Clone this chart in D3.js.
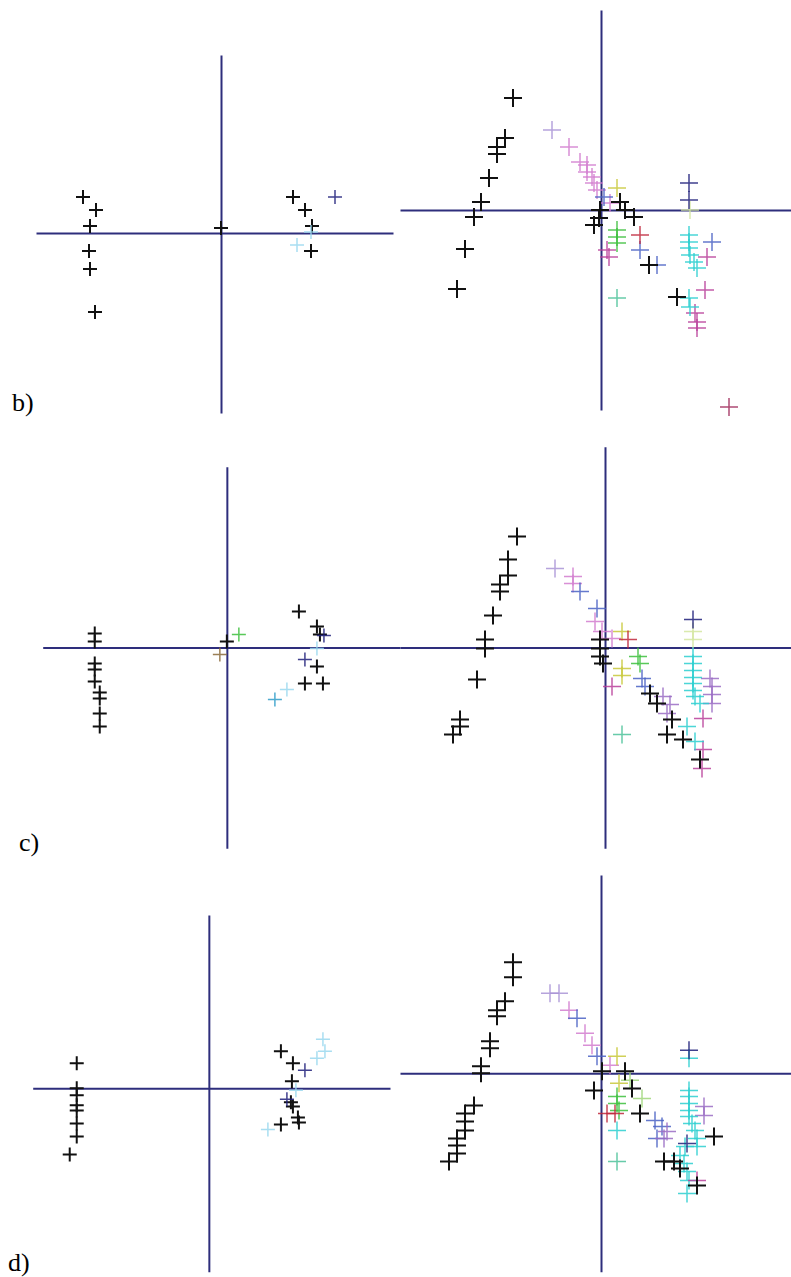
<!DOCTYPE html>
<html>
<head>
<meta charset="utf-8">
<script src="https://cdn.jsdelivr.net/npm/d3@7"></script>
<style>
  html, body { margin: 0; padding: 0; background: #fff; }
  svg { display: block; }
</style>
</head>
<body>
<script>
// ---------------- DATA (values in plot units, origin = axis crossing) ----------------
const colors = {
  black: "#111111", navy: "#1f1f7a", lightCyan: "#9ad8ee", cyanBlue: "#2f9cc8",
  cyan: "#2ccfd0", teal: "#4cc29a", green: "#3cbf3c", lightGreen: "#9fd67a",
  yellow: "#c8c83a", red: "#c0283c", magenta: "#b8409a", pink: "#d27ccf",
  lavender: "#a994d6", purple: "#9a6cc4", blue: "#4a62c4", brown: "#8a6a3a",
  lime: "#d4e6a0", maroon: "#a02c5a"
};

// panel b, left
const bL_black = [[-13.8,3.6],[-12.5,2.3],[-13.1,0.7],[-13.2,-1.8],[-13.1,-3.6],[-12.6,-7.9],[0,0.5],[7.2,3.6],[8.4,2.3],[9.1,0.7],[9.0,-1.8]];
const bL_navy = [[11.4,3.6]];
const bL_lightCyan = [[9.0,0.1],[7.6,-1.2]];

// panel b, right
const bR_black = [[-8.8,11.2],[-9.6,7.2],[-10.4,6.3],[-10.4,5.6],[-11.2,3.2],[-12.0,0.8],[-12.7,-0.7],[-13.6,-3.9],[-14.4,-7.9],[-0.1,0],[-0.2,-0.8],[-0.7,-1.5],[1.9,0.8],[2.4,0],[3.3,-0.7],[4.8,-5.5],[7.6,-8.7]];
const bR_lavender = [[-4.9,8.0]];
const bR_pink = [[-3.2,6.3],[-2.1,4.8],[-1.4,4.5],[-1.4,3.8],[-0.9,3.3],[-0.7,2.7],[-0.4,2.0],[0.9,0.7]];
const bR_magenta = [[0.6,-4.0],[0.8,-4.7],[10.6,-4.7],[10.4,-8.0],[9.4,-10.3],[9.6,-11.2],[9.6,-11.8]];
const bR_blue = [[0.3,1.3],[3.9,-4.0],[5.6,-5.5],[11.1,-3.2]];
const bR_yellow = [[1.6,2.2]];
const bR_green = [[1.6,-2.0],[1.6,-2.7],[1.6,-3.3]];
const bR_red = [[3.9,-2.5]];
const bR_teal = [[1.6,-8.8]];
const bR_navy = [[8.8,2.7],[8.8,1.0]];
const bR_cyan = [[8.8,-2.5],[8.8,-3.2],[8.8,-3.8],[8.9,-4.5],[9.3,-5.2],[9.6,-5.8],[8.8,-8.8],[8.9,-9.7]];
const bR_lime = [[8.9,0]];
const bR_maroon = [[12.8,-19.7]];

// panel c, left
const cL_black = [[-13.2,1.4],[-13.2,0.6],[-13.2,-1.6],[-13.2,-2.2],[-13.2,-3.4],[-12.7,-4.5],[-12.7,-5.1],[-12.7,-6.6],[-12.7,-7.9],[0,0.6],[7.2,3.6],[9.0,2.1],[9.3,1.3],[9.0,-1.9],[7.8,-3.6],[9.6,-3.6]];
const cL_brown = [[-0.7,-0.7]];
const cL_green = [[1.2,1.3]];
const cL_navy = [[9.7,1.2],[7.8,-1.2]];
const cL_lightCyan = [[9.0,-0.1],[6.0,-4.2]];
const cL_cyanBlue = [[4.8,-5.2]];

// panel c, right
const cR_black = [[-8.8,11.1],[-9.7,8.8],[-9.7,7.2],[-10.5,6.3],[-10.5,5.6],[-11.2,3.2],[-12.0,0.8],[-12.0,-0.1],[-12.8,-3.2],[-14.5,-7.2],[-14.5,-7.9],[-15.2,-8.7],[-0.5,0.8],[-0.5,-0.1],[-0.5,-0.9],[-0.2,-1.6],[4.5,-4.6],[5.2,-5.6],[6.7,-7.2],[6.2,-8.7],[7.8,-9.2],[9.5,-11.2]];
const cR_lavender = [[-5.0,7.9]];
const cR_pink = [[-3.2,7.1],[-3.2,6.4],[-1.0,2.6],[-0.3,1.6],[0.7,0.9]];
const cR_blue = [[-2.5,5.6],[-0.8,3.9],[3.7,-3.1],[4.0,-3.9]];
const cR_yellow = [[1.7,1.6],[1.7,-2.1],[1.7,-2.8]];
const cR_red = [[2.3,0.8]];
const cR_green = [[3.3,-0.9],[3.5,-1.6]];
const cR_magenta = [[0.7,-3.9],[9.8,-7.1],[9.8,-10.2],[9.7,-12.1]];
const cR_purple = [[5.8,-4.9],[6.5,-5.7],[6.2,-6.6],[10.5,-3.1],[10.7,-3.9],[10.7,-4.7],[10.7,-5.6]];
const cR_cyan = [[8.8,-0.9],[8.8,-1.6],[8.8,-2.3],[8.8,-3.0],[8.8,-3.6],[8.8,-4.3],[9.0,-4.9],[9.5,-5.6],[8.2,-7.9],[9.0,-9.4]];
const cR_navy = [[8.8,2.8]];
const cR_lime = [[8.8,1.6],[8.8,0.8]];
const cR_teal = [[1.7,-8.7]];

// panel d, left
const dL_black = [[-13.2,2.5],[-13.2,0],[-13.2,-0.7],[-13.2,-1.7],[-13.2,-2.2],[-13.2,-3.5],[-13.2,-4.8],[-13.9,-6.6],[7.2,3.7],[8.4,2.5],[8.3,0.7],[8.2,-1.4],[8.4,-1.8],[8.9,-2.9],[9.0,-3.4],[7.2,-3.6]];
const dL_navy = [[9.6,1.8],[7.8,-1.1]];
const dL_lightCyan = [[8.7,-0.2],[5.9,-4.1],[11.4,4.9],[11.6,3.7],[10.8,3.0]];

// panel d, right
const dR_black = [[-8.8,11.1],[-8.8,9.6],[-9.6,7.2],[-10.4,6.3],[-10.4,5.7],[-11.1,3.2],[-11.1,2.5],[-12.0,0.7],[-12.0,0],[-12.7,-3.2],[-13.6,-4.0],[-13.6,-4.8],[-13.6,-5.7],[-14.4,-6.5],[-14.4,-7.2],[-14.4,-8.0],[-15.2,-8.8],[0.1,0.2],[-0.7,-1.7],[2.4,0.2],[3.1,-1.5],[3.9,-4.0],[6.3,-8.8],[7.3,-8.8],[7.9,-9.5],[11.3,-6.3],[9.6,-11.2]];
const dR_lavender = [[-5.1,8.0],[-4.2,8.0]];
const dR_pink = [[-3.2,6.3],[-1.6,4.0],[-0.9,2.8],[0.9,0.8]];
const dR_blue = [[-2.4,5.5],[-0.4,1.7],[5.4,-4.7],[6.1,-5.3],[5.6,-6.5]];
const dR_purple = [[6.6,-5.8],[6.3,-6.5],[10.3,-3.3],[10.3,-4.2]];
const dR_yellow = [[1.6,1.7],[1.8,-1.0]];
const dR_green = [[1.6,-2.3],[1.6,-3.0],[1.8,-3.7]];
const dR_lightGreen = [[2.9,-0.7],[4.1,-2.5]];
const dR_red = [[0.6,-4.0],[1.4,-4.0]];
const dR_cyan = [[1.6,-5.7],[8.8,1.5],[8.8,-1.7],[8.8,-2.3],[8.8,-3.0],[8.8,-3.7],[8.8,-4.3],[9.1,-5.0],[9.4,-5.7],[9.6,-6.5],[9.6,-7.3],[8.4,-7.3],[7.9,-8.2],[8.3,-9.0],[8.6,-9.8],[8.8,-10.7],[8.6,-12.0]];
const dR_teal = [[1.6,-8.8]];
const dR_navy = [[8.8,2.3],[8.6,-7.0]];
const dR_magenta = [[9.6,-10.7]];

const rowLabels = ["b)", "c)", "d)"];

// ---------------- LAYOUT ----------------
const W = 791, H = 1277;
const panels = [
  { box: [36, 393, 55, 413],  xDom: [-18.5, 17.2], yDom: [-18.0, 17.8], big: false,
    series: [[bL_black,"black"],[bL_navy,"navy"],[bL_lightCyan,"lightCyan"]] },
  { box: [400, 791, 10, 410], xDom: [-20.1, 19.0], yDom: [-20.0, 20.0], big: true,
    series: [[bR_lime,"lime"],[bR_lavender,"lavender"],[bR_pink,"pink"],[bR_magenta,"magenta"],[bR_blue,"blue"],[bR_yellow,"yellow"],[bR_green,"green"],[bR_red,"red"],[bR_teal,"teal"],[bR_navy,"navy"],[bR_cyan,"cyan"],[bR_maroon,"maroon"],[bR_black,"black"]] },
  { box: [42.7, 400, 466.7, 848.3], xDom: [-18.4, 17.3], yDom: [-20.1, 18.1], big: false,
    series: [[cL_black,"black"],[cL_brown,"brown"],[cL_green,"green"],[cL_navy,"navy"],[cL_lightCyan,"lightCyan"],[cL_cyanBlue,"cyanBlue"]] },
  { box: [400, 791, 446.7, 848.3], xDom: [-20.5, 18.6], yDom: [-20.1, 20.1], big: true,
    series: [[cR_lime,"lime"],[cR_lavender,"lavender"],[cR_pink,"pink"],[cR_blue,"blue"],[cR_yellow,"yellow"],[cR_red,"red"],[cR_green,"green"],[cR_magenta,"magenta"],[cR_purple,"purple"],[cR_cyan,"cyan"],[cR_navy,"navy"],[cR_teal,"teal"],[cR_black,"black"]] },
  { box: [32.7, 390, 915, 1271.7], xDom: [-17.6, 18.1], yDom: [-18.3, 17.3], big: false,
    series: [[dL_black,"black"],[dL_navy,"navy"],[dL_lightCyan,"lightCyan"]] },
  { box: [400, 791, 875, 1271.7], xDom: [-20.1, 19.0], yDom: [-19.8, 19.8], big: true,
    series: [[dR_lavender,"lavender"],[dR_pink,"pink"],[dR_blue,"blue"],[dR_purple,"purple"],[dR_yellow,"yellow"],[dR_green,"green"],[dR_lightGreen,"lightGreen"],[dR_red,"red"],[dR_cyan,"cyan"],[dR_teal,"teal"],[dR_navy,"navy"],[dR_magenta,"magenta"],[dR_black,"black"]] }
];
const labelPos = [[12, 411], [19, 851], [8, 1271]];

// ---------------- DRAW ----------------
const svg = d3.select("body").append("svg").attr("width", W).attr("height", H);
svg.append("rect").attr("width", W).attr("height", H).attr("fill", "#fff");

const crossType = {
  draw(ctx, size) {
    const r = Math.sqrt(size) / 2;
    ctx.moveTo(-r, 0); ctx.lineTo(r, 0);
    ctx.moveTo(0, -r); ctx.lineTo(0, r);
  }
};
const AXIS_COLOR = "#2e2e7c";

panels.forEach(p => {
  const [x0, x1, y0, y1] = p.box;
  const x = d3.scaleLinear().domain(p.xDom).range([x0, x1]);
  const y = d3.scaleLinear().domain(p.yDom).range([y1, y0]);
  const g = svg.append("g");

  const xAxis = g.append("g").attr("transform", `translate(0,${y(0)})`)
    .call(d3.axisBottom(x).tickValues([]).tickSizeOuter(0));
  const yAxis = g.append("g").attr("transform", `translate(${x(0)},0)`)
    .call(d3.axisLeft(y).tickValues([]).tickSizeOuter(0));
  [xAxis, yAxis].forEach(a => a.select(".domain").attr("stroke", AXIS_COLOR).attr("stroke-width", 2));

  const size = p.big ? 18 : 14;
  const sym = d3.symbol().type(crossType).size(size * size);
  p.series.forEach(([arr, ck]) => {
    const isBlack = ck === "black";
    g.append("g").selectAll("path").data(arr).join("path")
      .attr("transform", d => `translate(${x(d[0])},${y(d[1])})`)
      .attr("d", sym)
      .attr("fill", "none")
      .attr("stroke", colors[ck])
      .attr("stroke-width", isBlack ? 2 : 1.5)
      .attr("stroke-opacity", isBlack ? 1 : 0.85);
  });
});

svg.append("g").selectAll("text").data(rowLabels).join("text")
  .attr("x", (d, i) => labelPos[i][0])
  .attr("y", (d, i) => labelPos[i][1])
  .attr("font-family", "'Liberation Serif', 'Times New Roman', serif")
  .attr("font-size", 26)
  .attr("fill", "#000")
  .text(d => d);
</script>
</body>
</html>
